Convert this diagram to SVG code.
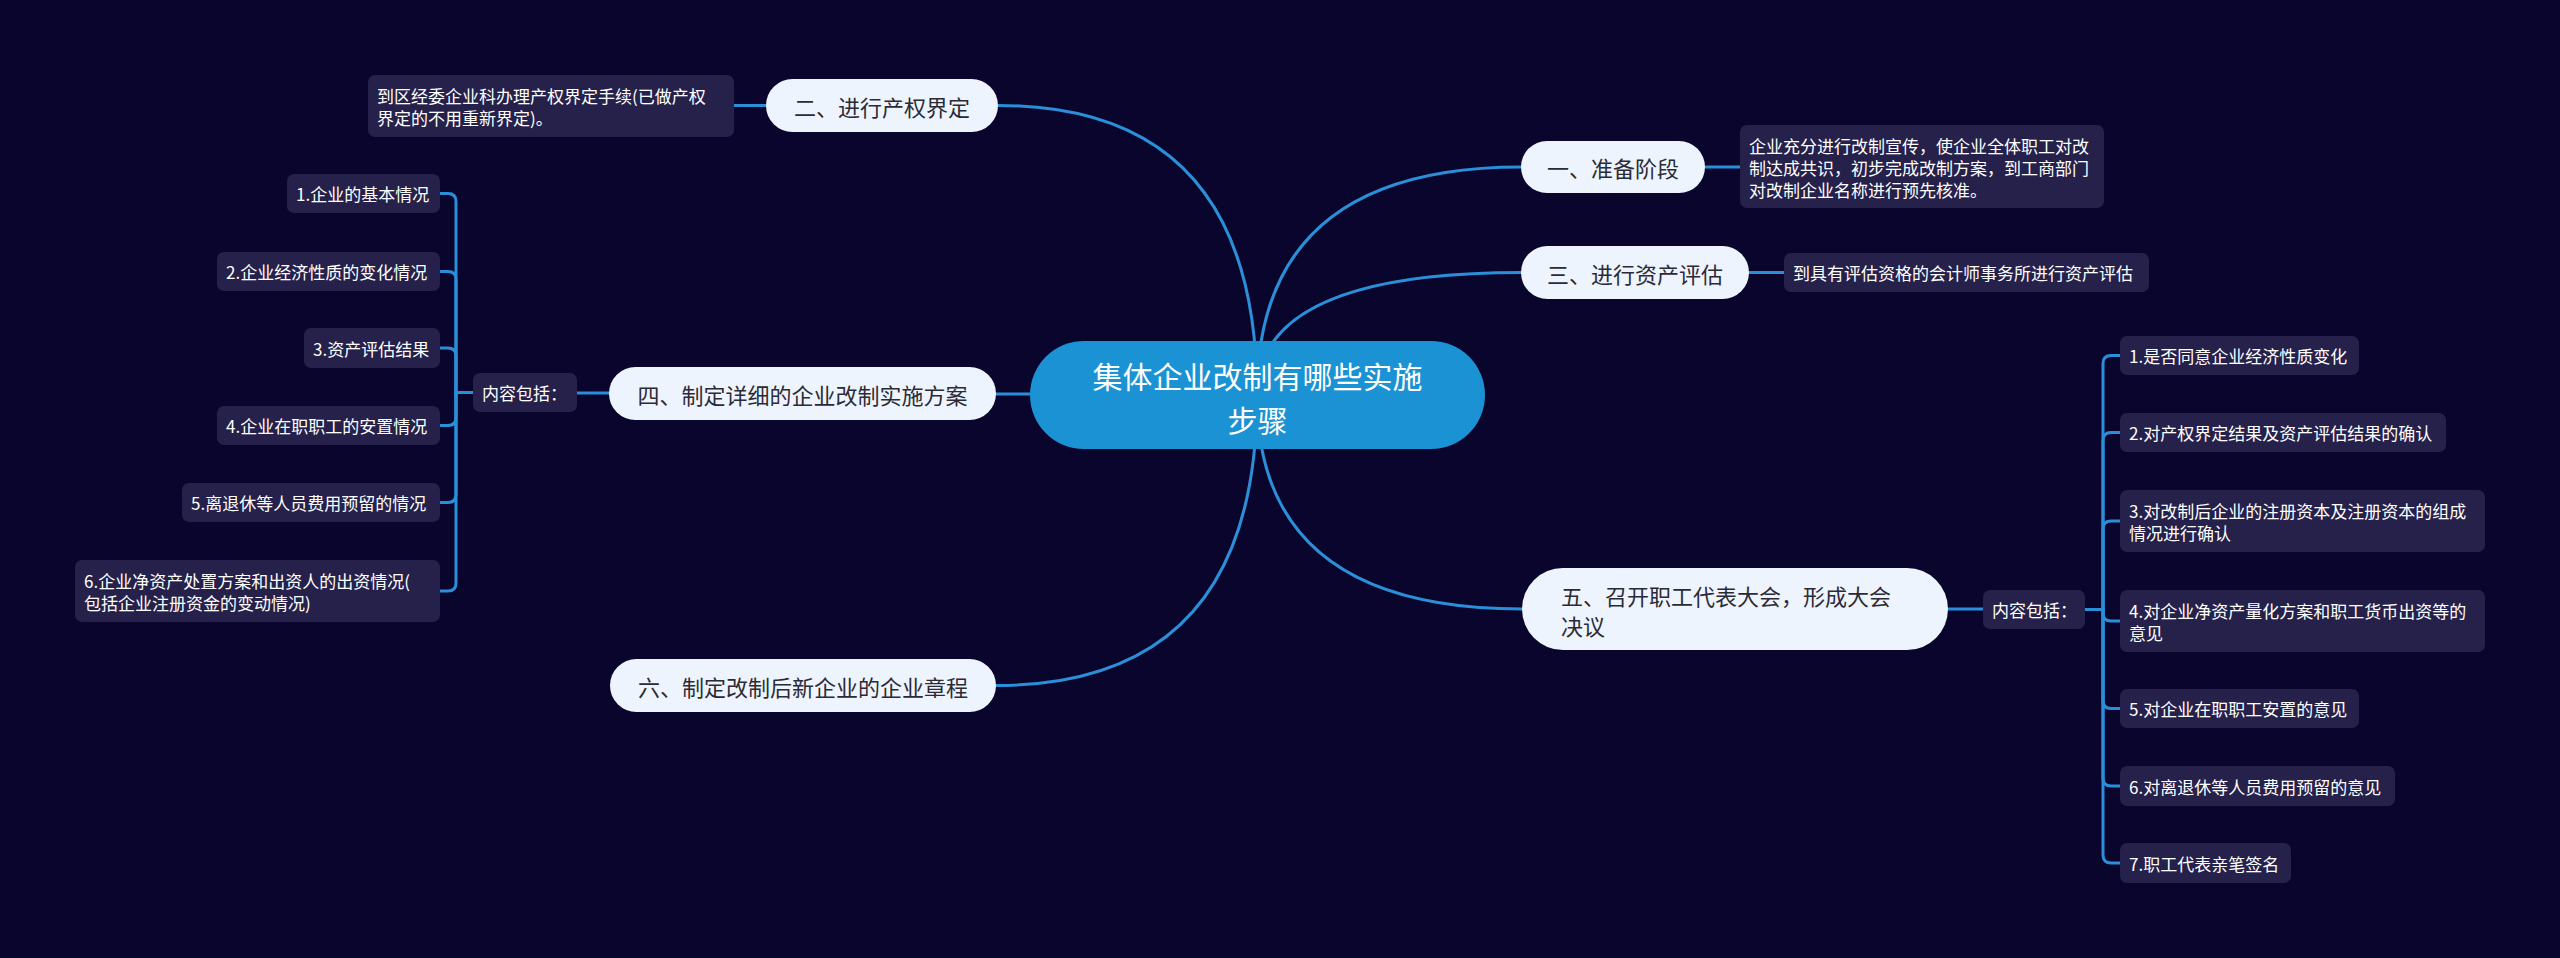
<svg xmlns="http://www.w3.org/2000/svg" width="2560" height="958" viewBox="0 0 2560 958">
<style>
.bg{fill:#0a052c}
.ln{fill:none;stroke:#2a8fd8;stroke-width:3;stroke-linecap:round}
.root{fill:#1b92d4}
.rt{fill:#ffffff;font-family:"Noto Sans CJK SC","Noto Sans",sans-serif;font-size:30px;text-anchor:middle;dominant-baseline:central}
.main{fill:#eef4fe}
.mt{fill:#2b2b36;font-family:"Noto Sans CJK SC","Noto Sans",sans-serif;font-size:22px;dominant-baseline:central}
.box{fill:#25214b}
.bt{fill:#ffffff;font-family:"Noto Sans CJK SC","Noto Sans",sans-serif;font-size:17px;dominant-baseline:central}
.c{text-anchor:middle}
</style>
<rect class="bg" x="0" y="0" width="2560" height="958"/>
<g id="connectors">
<path class="ln" d="M1257,395 Q1257,105.5 998,105.5"/>
<path class="ln" d="M1257,395 Q1257,167 1521,167"/>
<path class="ln" d="M1257,395 Q1257,272.5 1521,272.5"/>
<path class="ln" d="M1257,395 Q1257,609 1522,609"/>
<path class="ln" d="M1257,395 Q1257,685.5 996,685.5"/>
<path class="ln" d="M996,394 H1257"/>
<path class="ln" d="M766,105.5 H734"/>
<path class="ln" d="M1705,167 H1740"/>
<path class="ln" d="M1749,272.5 H1784"/>
<path class="ln" d="M609,393 H577"/>
<path class="ln" d="M473,392.5 H456"/>
<path class="ln" d="M456,392.5 V201.5 Q456,193.5 448,193.5 H440"/>
<path class="ln" d="M456,392.5 V279.5 Q456,271.5 448,271.5 H440"/>
<path class="ln" d="M456,392.5 V356 Q456,348 448,348 H440"/>
<path class="ln" d="M456,392.5 V417.5 Q456,425.5 448,425.5 H440"/>
<path class="ln" d="M456,392.5 V494.5 Q456,502.5 448,502.5 H440"/>
<path class="ln" d="M456,392.5 V583 Q456,591 448,591 H440"/>
<path class="ln" d="M1948,609 H1983"/>
<path class="ln" d="M2085,609.5 H2103"/>
<path class="ln" d="M2103,609.5 V363.5 Q2103,355.5 2111,355.5 H2120"/>
<path class="ln" d="M2103,609.5 V440.5 Q2103,432.5 2111,432.5 H2120"/>
<path class="ln" d="M2103,609.5 V529 Q2103,521 2111,521 H2120"/>
<path class="ln" d="M2103,609.5 V613 Q2103,621 2111,621 H2120"/>
<path class="ln" d="M2103,609.5 V700.5 Q2103,708.5 2111,708.5 H2120"/>
<path class="ln" d="M2103,609.5 V778 Q2103,786 2111,786 H2120"/>
<path class="ln" d="M2103,609.5 V855 Q2103,863 2111,863 H2120"/>
</g>
<g id="root">
<rect class="root" x="1030" y="341" width="455" height="108" rx="54"/>
<text class="rt" x="1257.5" y="375">集体企业改制有哪些实施</text>
<text class="rt" x="1257.5" y="419">步骤</text>
</g>
<g id="n2">
<rect class="main" x="766" y="79" width="232" height="53" rx="26.5"/>
<text class="mt c" x="882" y="105.5">二、进行产权界定</text>
</g>
<g id="t2">
<rect class="box" x="368" y="75" width="366" height="62" rx="7"/>
<text class="bt" x="377" y="95">到区经委企业科办理产权界定手续(已做产权</text>
<text class="bt" x="377" y="117">界定的不用重新界定)。</text>
</g>
<g id="n4">
<rect class="main" x="609" y="367" width="387" height="53" rx="26.5"/>
<text class="mt c" x="802.5" y="393.5">四、制定详细的企业改制实施方案</text>
</g>
<g id="l0">
<rect class="box" x="473" y="373" width="104" height="39" rx="7"/>
<text class="bt" x="482" y="392.5">内容包括：</text>
</g>
<g id="l1">
<rect class="box" x="287" y="174" width="153" height="39" rx="7"/>
<text class="bt" x="296" y="193.5">1.企业的基本情况</text>
</g>
<g id="l2">
<rect class="box" x="217" y="252" width="223" height="39" rx="7"/>
<text class="bt" x="226" y="271.5">2.企业经济性质的变化情况</text>
</g>
<g id="l3">
<rect class="box" x="304" y="328" width="136" height="40" rx="7"/>
<text class="bt" x="313" y="348">3.资产评估结果</text>
</g>
<g id="l4">
<rect class="box" x="217" y="406" width="223" height="39" rx="7"/>
<text class="bt" x="226" y="425.5">4.企业在职职工的安置情况</text>
</g>
<g id="l5">
<rect class="box" x="182" y="483" width="258" height="39" rx="7"/>
<text class="bt" x="191" y="502.5">5.离退休等人员费用预留的情况</text>
</g>
<g id="l6">
<rect class="box" x="75" y="560" width="365" height="62" rx="7"/>
<text class="bt" x="84" y="580">6.企业净资产处置方案和出资人的出资情况(</text>
<text class="bt" x="84" y="602">包括企业注册资金的变动情况)</text>
</g>
<g id="n6">
<rect class="main" x="610" y="659" width="386" height="53" rx="26.5"/>
<text class="mt c" x="803" y="685.5">六、制定改制后新企业的企业章程</text>
</g>
<g id="n1">
<rect class="main" x="1521" y="141" width="184" height="52" rx="26"/>
<text class="mt c" x="1613" y="167">一、准备阶段</text>
</g>
<g id="t1">
<rect class="box" x="1740" y="125" width="364" height="83" rx="7"/>
<text class="bt" x="1749" y="145">企业充分进行改制宣传，使企业全体职工对改</text>
<text class="bt" x="1749" y="167">制达成共识，初步完成改制方案，到工商部门</text>
<text class="bt" x="1749" y="189">对改制企业名称进行预先核准。</text>
</g>
<g id="n3">
<rect class="main" x="1521" y="246" width="228" height="53" rx="26.5"/>
<text class="mt c" x="1635" y="272.5">三、进行资产评估</text>
</g>
<g id="t3">
<rect class="box" x="1784" y="253" width="365" height="39" rx="7"/>
<text class="bt" x="1793" y="272.5">到具有评估资格的会计师事务所进行资产评估</text>
</g>
<g id="n5">
<rect class="main" x="1522" y="568" width="426" height="82" rx="41"/>
<text class="mt" x="1561" y="595">五、召开职工代表大会，形成大会</text>
<text class="mt" x="1561" y="625">决议</text>
</g>
<g id="r0">
<rect class="box" x="1983" y="590" width="102" height="39" rx="7"/>
<text class="bt" x="1992" y="609.5">内容包括：</text>
</g>
<g id="r1">
<rect class="box" x="2120" y="336" width="239" height="39" rx="7"/>
<text class="bt" x="2129" y="355.5">1.是否同意企业经济性质变化</text>
</g>
<g id="r2">
<rect class="box" x="2120" y="413" width="326" height="39" rx="7"/>
<text class="bt" x="2129" y="432.5">2.对产权界定结果及资产评估结果的确认</text>
</g>
<g id="r3">
<rect class="box" x="2120" y="490" width="365" height="62" rx="7"/>
<text class="bt" x="2129" y="510">3.对改制后企业的注册资本及注册资本的组成</text>
<text class="bt" x="2129" y="532">情况进行确认</text>
</g>
<g id="r4">
<rect class="box" x="2120" y="590" width="365" height="62" rx="7"/>
<text class="bt" x="2129" y="610">4.对企业净资产量化方案和职工货币出资等的</text>
<text class="bt" x="2129" y="632">意见</text>
</g>
<g id="r5">
<rect class="box" x="2120" y="689" width="239" height="39" rx="7"/>
<text class="bt" x="2129" y="708.5">5.对企业在职职工安置的意见</text>
</g>
<g id="r6">
<rect class="box" x="2120" y="766" width="275" height="40" rx="7"/>
<text class="bt" x="2129" y="786">6.对离退休等人员费用预留的意见</text>
</g>
<g id="r7">
<rect class="box" x="2120" y="843" width="171" height="40" rx="7"/>
<text class="bt" x="2129" y="863">7.职工代表亲笔签名</text>
</g>
</svg>
